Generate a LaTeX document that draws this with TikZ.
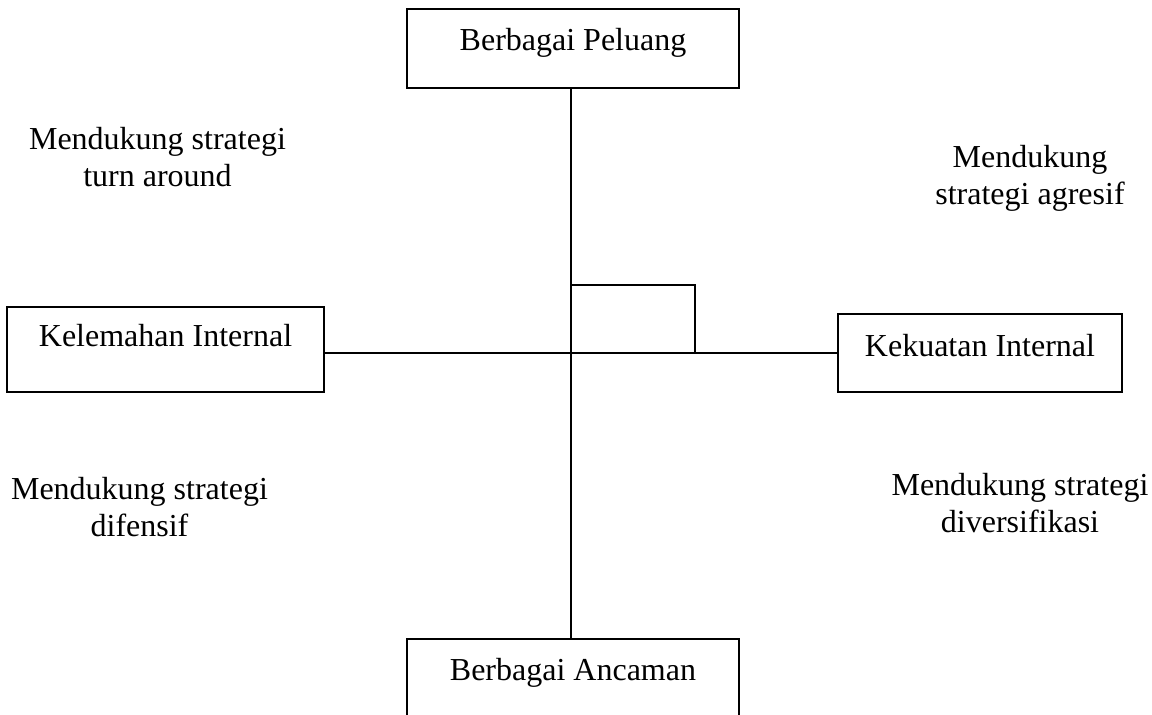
\documentclass[tikz,border=0pt]{standalone}
\usepackage{fontspec}
\setmainfont{Liberation Serif}
\usepackage{tikz}
\usetikzlibrary{positioning}

\begin{document}
\begin{tikzpicture}[x=0.375pt, y=-0.375pt,
    every node/.style={font=\fontsize{12}{13.9}\selectfont},
    kotak/.style={draw, line width=0.9pt, inner sep=0pt, anchor=base},
    garis/.style={line width=0.9pt},
    keterangan/.style={align=center, anchor=base, inner sep=0pt},
    ]
\useasboundingbox (0,0) rectangle (1152,715);

\node[kotak, minimum width=124.5pt, text height=15.7pt, text depth=13.9pt] (peluang) at (573,51) {Berbagai Peluang};
\node[kotak, minimum width=124.5pt, text height=15.7pt, text depth=22pt] (ancaman) at (573,681) {Berbagai Ancaman};
\node[kotak, minimum width=118.9pt, text height=15pt, text depth=16.9pt] (kelemahan) at (165.5,347) {Kelemahan Internal};
\node[kotak, minimum width=106.5pt, text height=16.1pt, text depth=13.1pt] (kekuatan) at (980,357) {Kekuatan Internal};

\coordinate (pusat) at (571,353);
\coordinate (sudut) at (695,285);

\draw[garis] (peluang.south -| pusat) -- (ancaman.north -| pusat);
\draw[garis] (kelemahan.east |- pusat) -- (kekuatan.west |- pusat);
\draw[garis] (pusat) rectangle (sudut);

\foreach \nama/\px/\py/\teks in {
    turnaround/157.5/187/{Mendukung strategi\\turn around},
    agresif/1030/205/{Mendukung\\strategi agresif},
    difensif/139.5/537/{Mendukung strategi\\difensif},
    diversifikasi/1020/533/{Mendukung strategi\\diversifikasi}}
    \node[keterangan] (\nama) at (\px,\py) {\teks};

\end{tikzpicture}
\end{document}
